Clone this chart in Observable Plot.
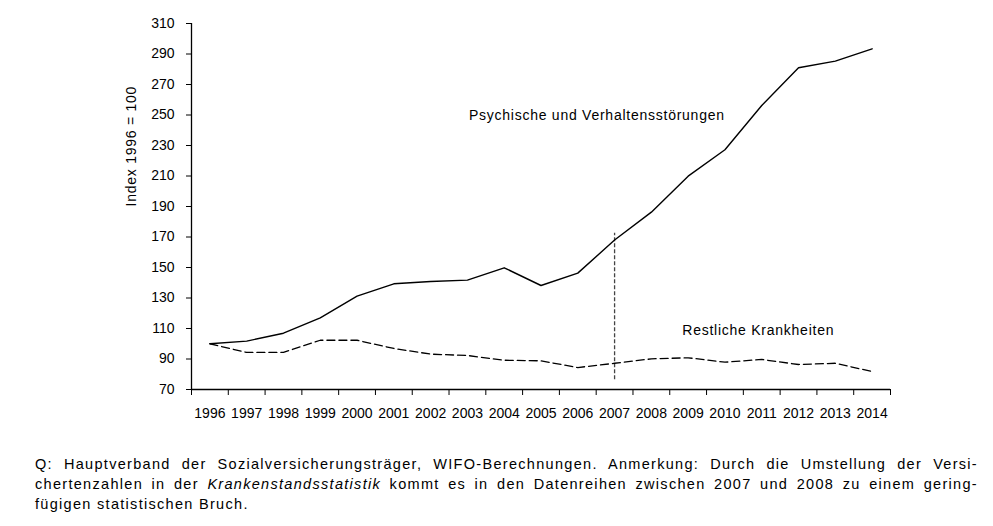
<!DOCTYPE html>
<html>
<head>
<meta charset="utf-8">
<script src="https://cdn.jsdelivr.net/npm/d3@7"></script>
<script src="https://cdn.jsdelivr.net/npm/@observablehq/plot@0.6"></script>
<style>
  html, body { margin: 0; padding: 0; background: #fff; }
  #chart { width: 993px; }
  .caption {
    font-family: "Liberation Sans", Arial, sans-serif;
    font-size: 14.5px;
    letter-spacing: 1.3px;
    line-height: 20px;
    color: #000;
    width: 943px;
    margin: 24px 0 0 35px;
  }
  .caption div { text-align: justify; text-align-last: justify; white-space: nowrap; }
  .caption div.last { text-align-last: left; }
</style>
</head>
<body>
<div id="chart"></div>
<div class="caption">
  <div>Q: Hauptverband der Sozialversicherungsträger, WIFO-Berechnungen. Anmerkung: Durch die Umstellung der Versi-</div>
  <div>chertenzahlen in der <i>Krankenstandsstatistik</i> kommt es in den Datenreihen zwischen 2007 und 2008 zu einem gering-</div>
  <div class="last">fügigen statistischen Bruch.</div>
</div>
<script>
const years = [1996,1997,1998,1999,2000,2001,2002,2003,2004,2005,2006,2007,2008,2009,2010,2011,2012,2013,2014];
const psychisch = [100,101.7,106.9,117,131.2,139.3,140.8,141.7,149.8,138.2,146.3,168,186.3,209.9,227.2,256.2,281,285.3,293.4];
const restlich = [100,94.3,94.3,102.3,102.3,96.9,93.2,92.3,89.2,88.8,84.4,87.2,90.1,90.8,87.9,89.7,86.4,87.2,81.8];
const yTicks = [70,90,110,130,150,170,190,210,230,250,270,290,310];
const xBoundaries = [1995.5,1996.5,1997.5,1998.5,1999.5,2000.5,2001.5,2002.5,2003.5,2004.5,2005.5,2006.5,2007.5,2008.5,2009.5,2010.5,2011.5,2012.5,2013.5,2014.5];
const breakYear = [2007];
const seriesNames = ["Psychische und Verhaltensstörungen", "Restliche Krankheiten"];
const yLabel = "Index 1996 = 100";

const psychData = years.map((year, i) => ({year, value: psychisch[i]}));
const restData = years.map((year, i) => ({year, value: restlich[i]}));

const chart = Plot.plot({
  width: 993,
  height: 430,
  marginLeft: 191,
  marginRight: 103,
  marginTop: 23,
  marginBottom: 41,
  style: {fontFamily: "'Liberation Sans', Arial, sans-serif", fontSize: "14px", color: "#000", background: "#fff"},
  x: {domain: [1995.5, 2014.5]},
  y: {domain: [70, 310]},
  marks: [
    Plot.axisY({ticks: yTicks, tickSize: 5, tickPadding: 12, label: null, tickFormat: d => String(d), stroke: "#000"}),
    Plot.axisX({ticks: xBoundaries, tickSize: 6, tickFormat: () => "", label: null, stroke: "#000"}),
    Plot.axisX({ticks: years, tickSize: 0, tickPadding: 19, tickFormat: d => String(d), label: null}),
    Plot.ruleX([1995.5], {stroke: "#000", strokeWidth: 1.3}),
    Plot.ruleY([70], {stroke: "#000", strokeWidth: 1.3}),
    Plot.ruleX(breakYear, {y1: 76.4, y2: 172.5, stroke: "#444", strokeWidth: 1.3, strokeDasharray: "4,2"}),
    Plot.line(restData, {x: "year", y: "value", stroke: "#000", strokeWidth: 1.3, strokeDasharray: "8,4"}),
    Plot.line(psychData, {x: "year", y: "value", stroke: "#000", strokeWidth: 1.4}),
    Plot.text([seriesNames[0]], {x: 2003.04, y: 249.7, textAnchor: "start", fill: "#000", fontSize: 14}),
    Plot.text([seriesNames[1]], {x: 2008.84, y: 108.7, textAnchor: "start", fill: "#000", fontSize: 14}),
    Plot.text([yLabel], {frameAnchor: "left", dx: -60, rotate: -90, fill: "#000", fontSize: 14})
  ]
});
d3.select(chart).selectAll("g[aria-label='text'] text").style("letter-spacing", "0.75px");
document.getElementById("chart").appendChild(chart);
</script>
</body>
</html>
